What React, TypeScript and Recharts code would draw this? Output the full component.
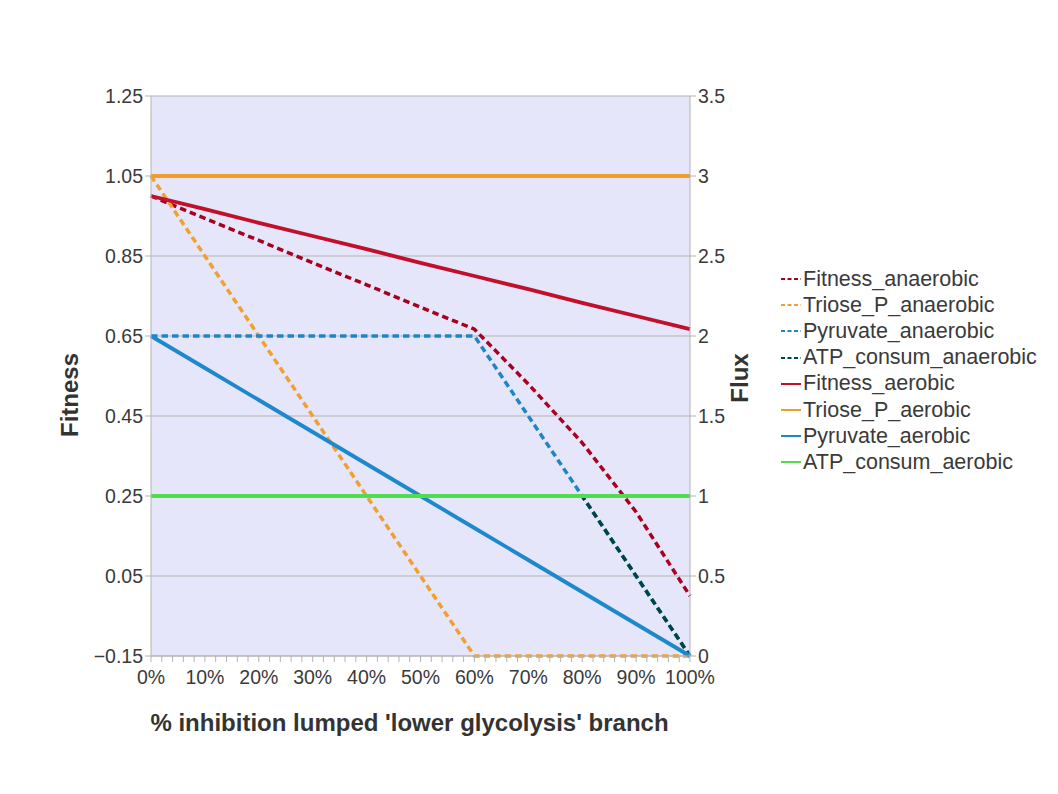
import React from 'react';
import { LineChart, Line, XAxis, YAxis, CartesianGrid, Legend } from 'recharts';

// x categories: % inhibition of the lumped 'lower glycolysis' branch
const inhibition = [0, 10, 20, 30, 40, 50, 60, 70, 80, 90, 100];

// fitness (left axis)
const fitnessAnaerobic = [1.0, 0.944, 0.889, 0.833, 0.778, 0.722, 0.667, 0.53, 0.383, 0.21, 0.0];
const fitnessAerobic = [1.0, 0.967, 0.933, 0.9, 0.867, 0.833, 0.8, 0.767, 0.733, 0.7, 0.667];

// fluxes (right axis)
const trioseAnaerobic = [3, 2.5, 2, 1.5, 1, 0.5, 0, 0, 0, 0, 0];
const pyruvateAnaerobic = [2, 2, 2, 2, 2, 2, 2, 1.5, 1, 0.5, 0];
const atpAnaerobic = [1, 1, 1, 1, 1, 1, 1, 1, 1, 0.5, 0];
const trioseAerobic = [3, 3, 3, 3, 3, 3, 3, 3, 3, 3, 3];
const pyruvateAerobic = [2, 1.8, 1.6, 1.4, 1.2, 1, 0.8, 0.6, 0.4, 0.2, 0];
const atpAerobic = [1, 1, 1, 1, 1, 1, 1, 1, 1, 1, 1];

const leftTicks = [-0.15, 0.05, 0.25, 0.45, 0.65, 0.85, 1.05, 1.25];
const rightTicks = [0, 0.5, 1, 1.5, 2, 2.5, 3, 3.5];
const xTicks = Array.from({ length: 51 }, (_, i) => i * 2);

const data = inhibition.map((x, i) => ({
  x,
  Fitness_anaerobic: fitnessAnaerobic[i],
  Triose_P_anaerobic: trioseAnaerobic[i],
  Pyruvate_anaerobic: pyruvateAnaerobic[i],
  ATP_consum_anaerobic: atpAnaerobic[i],
  Fitness_aerobic: fitnessAerobic[i],
  Triose_P_aerobic: trioseAerobic[i],
  Pyruvate_aerobic: pyruvateAerobic[i],
  ATP_consum_aerobic: atpAerobic[i],
}));

// dashOffset lines the ATP dashes up with the pyruvate dashes where they overlap
const series = [
  { key: 'Fitness_anaerobic', color: '#a8001e', axis: 'left', dashed: true, dashOffset: 0 },
  { key: 'Triose_P_anaerobic', color: '#f0a030', axis: 'right', dashed: true, dashOffset: 0 },
  { key: 'Pyruvate_anaerobic', color: '#1e86c8', axis: 'right', dashed: true, dashOffset: 0 },
  { key: 'ATP_consum_anaerobic', color: '#004545', axis: 'right', dashed: true, dashOffset: 1.1 },
  { key: 'Fitness_aerobic', color: '#c0102a', axis: 'left', dashed: false, dashOffset: 0 },
  { key: 'Triose_P_aerobic', color: '#f39c2e', axis: 'right', dashed: false, dashOffset: 0 },
  { key: 'Pyruvate_aerobic', color: '#1e88cc', axis: 'right', dashed: false, dashOffset: 0 },
  { key: 'ATP_consum_aerobic', color: '#4fdc4f', axis: 'right', dashed: false, dashOffset: 0 },
];

const font = "'Liberation Sans', Arial, sans-serif";
const tickStyle = { fill: '#3a3a3a', fontSize: 19.5, fontFamily: font };
const axisGrey = '#b3b3b3';

const LegendBox = () => (
  <div style={{ fontFamily: font, fontSize: 21.5, color: '#3a3a3a' }}>
    {series.map((s) => (
      <div key={s.key} style={{ height: 26.2, display: 'flex', alignItems: 'center', whiteSpace: 'nowrap' }}>
        <svg width={22} height={6} style={{ marginRight: 1 }}>
          <line
            x1={1}
            y1={3}
            x2={21}
            y2={3}
            stroke={s.color}
            strokeWidth={2}
            strokeDasharray={s.dashed ? '4 2.5' : undefined}
          />
        </svg>
        <span>{s.key}</span>
      </div>
    ))}
  </div>
);

const titleProps = {
  fontFamily: font,
  fontSize: 24,
  fontWeight: 'bold' as const,
  fill: '#333',
};

const App = () => {
  return (
    <div style={{ width: 1042, height: 778, position: 'relative' }}>
      <LineChart
        width={1042}
        height={778}
        data={data}
        margin={{ top: 88, right: 300, left: 0, bottom: 90 }}
      >
        <CartesianGrid yAxisId="left" vertical={false} stroke={axisGrey} fill="#e6e6fa" />
        <XAxis
          dataKey="x"
          type="number"
          domain={[0, 100]}
          ticks={xTicks}
          interval={0}
          height={40}
          tickMargin={8}
          stroke={axisGrey}
          tick={tickStyle}
          tickFormatter={(v) => (v % 10 === 0 ? `${v}%` : '')}
          label={{
            content: ({ viewBox }: any) => (
              <text
                x={viewBox.x + viewBox.width / 2 - 11}
                y={viewBox.y + 75}
                textAnchor="middle"
                {...titleProps}
              >
                % inhibition lumped 'lower glycolysis' branch
              </text>
            ),
          }}
        />
        <YAxis
          yAxisId="left"
          domain={[-0.15, 1.25]}
          ticks={leftTicks}
          interval={0}
          width={143}
          stroke={axisGrey}
          tick={tickStyle}
          tickFormatter={(v) => v.toFixed(2).replace('-', '\u2212')}
          label={{
            content: ({ viewBox }: any) => {
              const x = 64;
              const y = viewBox.y + viewBox.height / 2 + 19;
              return (
                <text
                  x={x}
                  y={y}
                  transform={`rotate(-90 ${x} ${y})`}
                  textAnchor="middle"
                  dominantBaseline="middle"
                  {...titleProps}
                >
                  Fitness
                </text>
              );
            },
          }}
        />
        <YAxis
          yAxisId="right"
          orientation="right"
          domain={[0, 3.5]}
          ticks={rightTicks}
          interval={0}
          width={60}
          stroke={axisGrey}
          tick={tickStyle}
          tickFormatter={(v) => String(v)}
          label={{
            content: ({ viewBox }: any) => {
              const x = viewBox.x + 52;
              const y = viewBox.y + viewBox.height / 2 + 2;
              return (
                <text
                  x={x}
                  y={y}
                  transform={`rotate(-90 ${x} ${y})`}
                  textAnchor="middle"
                  dominantBaseline="middle"
                  {...titleProps}
                >
                  Flux
                </text>
              );
            },
          }}
        />
        <Legend
          layout="vertical"
          align="center"
          verticalAlign="middle"
          content={<LegendBox />}
          wrapperStyle={{ left: 772, top: 258, width: 270 }}
        />
        {series.map((s) => (
          <Line
            key={s.key}
            yAxisId={s.axis}
            type="linear"
            dataKey={s.key}
            stroke={s.color}
            strokeWidth={s.dashed ? 3.5 : 3.8}
            strokeDasharray={s.dashed ? '6.5 4' : undefined}
            strokeDashoffset={s.dashOffset}
            dot={false}
            activeDot={false}
            isAnimationActive={false}
          />
        ))}
      </LineChart>
    </div>
  );
};

export default App;
